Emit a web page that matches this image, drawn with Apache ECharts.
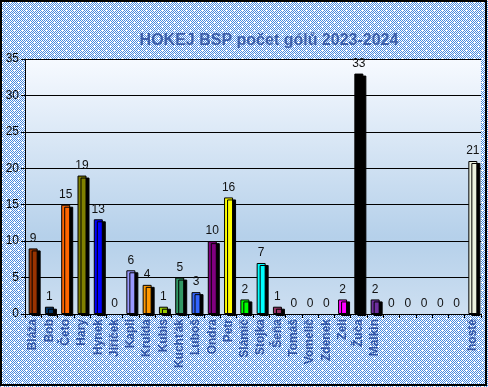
<!DOCTYPE html>
<html><head><meta charset="utf-8">
<script src="https://cdn.jsdelivr.net/npm/echarts@6/dist/echarts.min.js"></script>
<style>html,body{margin:0;padding:0;background:#fff}#c{width:488px;height:387px}</style>
</head><body><div id="c"></div>
<script>
const categories = ['Bláža','Bob','Četo','Hary','Hynek','Jiříček','Kapli','Krulda','Kubis','Kuchťák','Luboš','Ondra','Petr','Slámič','Stojka','Šeňa','Tomáš','Vomelič','Zdenek','Zelí','Žuča','Malkin','','','','','','hosté'];
const goals = [9,1,15,19,13,0,6,4,1,5,3,10,16,2,7,1,0,0,0,2,33,2,0,0,0,0,0,21];
const barColors = ['#993300','#003366','#ff6600','#808000','#0000ff','#cccccc','#9999ff','#ff9900','#99cc00','#339966','#3366ff','#800080','#ffff00','#00ff00','#00ffff','#993366','#cccccc','#cccccc','#cccccc','#ff00ff','#000000','#7030a0','#cccccc','#cccccc','#cccccc','#cccccc','#cccccc','#ebf1de'];
const yTicks = [0,5,10,15,20,25,30,35];

// background pattern
const pc = document.createElement('canvas');
pc.width = 8; pc.height = 8;
const px = pc.getContext('2d');
for (let y = 0; y < 8; y++) for (let x = 0; x < 8; x++) {
  px.fillStyle = ((x + y) % 2 === 0) ? '#4a8be0' : '#ffffff';
  px.fillRect(x, y, 1, 1);
}
px.fillStyle = '#ffffff';
px.fillRect(2, 2, 1, 1); px.fillRect(6, 6, 1, 1);

const chart = echarts.init(document.getElementById('c'), null, {renderer: 'canvas'});
chart.setOption({
  animation: false,
  backgroundColor: {image: pc, repeat: 'repeat'},
  title: {
    text: 'HOKEJ BSP počet gólů 2023-2024',
    left: 264, top: 28, textAlign: 'center',
    textStyle: {fontFamily: 'Liberation Sans', fontWeight: 'bold', fontSize: 16, color: '#3d5fa9'}
  },
  graphic: [{
    type: 'rect', shape: {x: 1, y: 1, width: 485, height: 384},
    style: {fill: null, stroke: '#000', lineWidth: 2}, silent: true, z: 100
  }],
  grid: {
    left: 25, right: 7, top: 59, bottom: 73, show: true, borderWidth: 0,
    backgroundColor: new echarts.graphic.LinearGradient(0, 0, 0, 1, [
      {offset: 0, color: '#f7faff'}, {offset: 0.7, color: '#b5d0ea'}, {offset: 1, color: '#cddff1'}
    ])
  },
  xAxis: {
    type: 'category', data: categories,
    axisLine: {lineStyle: {color: '#000', width: 1}},
    axisTick: {show: true, length: 4, lineStyle: {color: '#000'}},
    axisLabel: {rotate: 90, interval: 0, margin: 5, fontFamily: 'Liberation Sans', fontSize: 12, fontWeight: 'bold', color: '#3355a5'}
  },
  yAxis: {
    type: 'value', min: yTicks[0], max: yTicks[yTicks.length - 1], interval: 5,
    axisLine: {show: true, lineStyle: {color: '#000', width: 1}},
    axisTick: {show: true, length: 4, lineStyle: {color: '#000'}},
    axisLabel: {margin: 6, fontFamily: 'Liberation Sans', fontSize: 12, color: '#000'},
    splitLine: {show: true, lineStyle: {color: '#000', width: 1}}
  },
  series: [{
    type: 'bar', barWidth: 9,
    data: goals.map((v, i) => v === 0
      ? {value: v, itemStyle: {color: 'transparent', borderWidth: 0, shadowColor: 'transparent'}}
      : {value: v, itemStyle: {color: barColors[i]}}),
    itemStyle: {borderColor: '#000', borderWidth: 1, shadowColor: '#000', shadowOffsetX: 3, shadowOffsetY: 2, shadowBlur: 0},
    label: {show: true, position: 'top', distance: 4, fontFamily: 'Liberation Sans', fontSize: 12, color: '#111'}
  }]
});
</script></body></html>
